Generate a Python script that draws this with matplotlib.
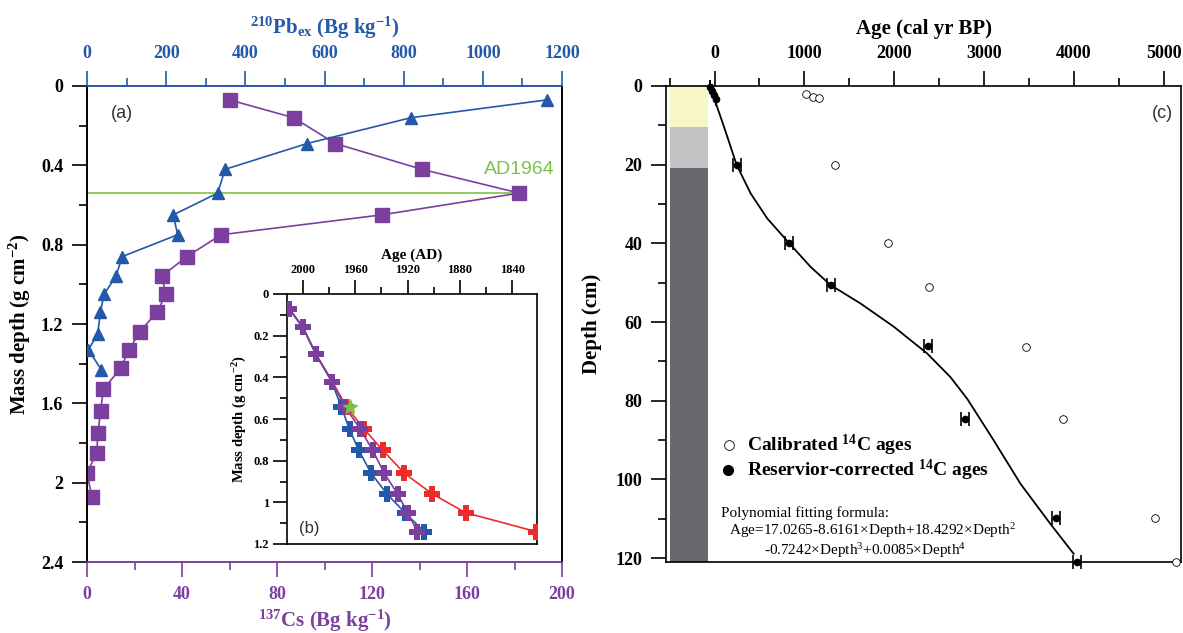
import matplotlib
matplotlib.use("Agg")
import matplotlib.pyplot as plt
from matplotlib.ticker import MultipleLocator, FormatStrFormatter

plt.rcParams['font.family'] = ['Liberation Serif', 'DejaVu Serif']
plt.rcParams['axes.linewidth'] = 1.2

# ---- panel (a): 137Cs and 210Pbex profiles
cs_depth = [0.07, 0.16, 0.29, 0.42, 0.54, 0.65, 0.75, 0.86, 0.96, 1.05,
            1.14, 1.24, 1.33, 1.42, 1.53, 1.64, 1.75, 1.85, 1.95, 2.07]
cs_value = [60, 87, 104.5, 141, 182, 124, 56.5, 42, 31.4, 33.3,
            29.4, 22.2, 17.7, 14.3, 6.9, 5.7, 4.6, 4.1, 0, 2.0]
pb_depth = [0.07, 0.16, 0.29, 0.42, 0.54, 0.65, 0.75, 0.86, 0.96, 1.05,
            1.14, 1.25, 1.33, 1.43]
pb_value = [1162, 818, 556, 349, 330, 218, 229, 89, 73, 43, 34, 27, 3.5, 36]
ad1964_depth = 0.54

# ---- panel (b): age models (AD)
b_depth = [0.07, 0.16, 0.29, 0.42, 0.54, 0.65, 0.75, 0.86, 0.96, 1.05, 1.14]
b_blue = [2010.7, 2000, 1990, 1978, 1970.8, 1964.4, 1957.3, 1947.9, 1935.7, 1922, 1907.3]
b_purple = [2010.7, 2000, 1990, 1978, 1968, 1956, 1946.7, 1937.8, 1927.6, 1920, 1912.4]
b_red = [2010.7, 2000, 1990, 1977.5, 1967, 1953, 1939, 1922.5, 1901, 1875.5, 1822]
star_age, star_depth = 1964, 0.54

# ---- panel (c): 14C ages
cal_age = [1015, 1100, 1164, 1343, 1933, 2387, 3469, 3883, 4901, 5133]
cal_depth = [2.1, 2.7, 3.0, 20, 40, 51, 66.3, 84.6, 109.8, 121]
res_age = [-55, -30, -5, 20, 247, 829, 1292, 2374, 2785, 3805, 4035]
res_depth = [0.3, 1.2, 2.2, 3.2, 20.1, 39.9, 50.6, 66.0, 84.6, 109.8, 121]
res_err = [0, 0, 0, 0, 45, 45, 45, 45, 45, 45, 45]
fit_age = [-61, -23, 106, 247, 402, 588, 829, 1070, 1292, 1626, 1996, 2367,
           2626, 2812, 3108, 3405, 3738, 3997]
fit_depth = [0, 1.9, 10.4, 20.1, 27.3, 33.7, 39.9, 46.0, 50.6, 55.3, 61.2, 68.0,
             74.0, 79.5, 90.1, 101.1, 111.3, 118.9]
litho_top = [0, 10.4, 20.9]
litho_bot = [10.4, 20.9, 121]
litho_col = ['#f6f6c6', '#c2c3c5', '#67686c']

blue = '#2458a8'
purple = '#7b3f9e'
red = '#ee2b2b'
green = '#7ec244'

W, H = 1183, 633
fig = plt.figure(figsize=(W / 100, H / 100), dpi=100)


def px(l, t, r, b):
    return [l / W, 1 - b / H, (r - l) / W, (b - t) / H]


def ticks(a, which_axis, major, minor, big=11, small=5.5, color='black', size=13):
    a.tick_params(axis=which_axis, which='major', direction='out', length=big, width=1.2,
                  colors=color, labelsize=size, pad=6)
    a.tick_params(axis=which_axis, which='minor', direction='out', length=small, width=1.2,
                  colors=color)
    loc = a.xaxis if which_axis == 'x' else a.yaxis
    loc.set_major_locator(MultipleLocator(major))
    loc.set_minor_locator(MultipleLocator(minor))


def bold_labels(a):
    for lab in a.get_xticklabels() + a.get_yticklabels():
        lab.set_fontweight('bold')


# ================= panel (a)
ax = fig.add_axes(px(87, 86, 562, 562))
ax.plot(cs_value, cs_depth, color=purple, lw=1.2, marker='s', ms=9.5, zorder=3)
ax.set_xlim(0, 200)
ax.set_ylim(2.4, 0)
ax.axhline(ad1964_depth, xmin=0, xmax=182 / 200, color=green, lw=1.2, zorder=2)
ax.text(197, 0.42, 'AD1964', color=green, fontsize=14,
        family='Liberation Sans', ha='right', va='center')
ax.text(0.05, 0.96, '(a)', transform=ax.transAxes, fontsize=13,
        family='Liberation Sans', va='top', color='#333333')
ticks(ax, 'x', 40, 20, color=purple)
ticks(ax, 'y', 0.4, 0.2)
ax.yaxis.set_major_formatter(FormatStrFormatter('%g'))
bold_labels(ax)
ax.spines['bottom'].set_color(purple)
ax.spines['top'].set_color(blue)
ax.set_xlabel(r'$\mathregular{^{137}}$Cs (Bg kg$\mathregular{^{-1}}$)', color=purple,
              fontsize=15, fontweight='bold', labelpad=4)
ax.set_ylabel(r'Mass depth (g cm$\mathregular{^{-2}}$)', fontsize=15,
              fontweight='bold', labelpad=6)

ax2 = ax.twiny()
ax2.plot(pb_value, pb_depth, color=blue, lw=1.2, marker='^', ms=8, zorder=3)
ax2.set_xlim(0, 1200)
ticks(ax2, 'x', 200, 100, color=blue)
bold_labels(ax2)
ax2.spines['top'].set_color(blue)
ax2.spines['bottom'].set_color(purple)
ax2.set_xlabel(r'$\mathregular{^{210}}$Pb$\mathregular{_{ex}}$ (Bg kg$\mathregular{^{-1}}$)',
               color=blue, fontsize=15, fontweight='bold', labelpad=8)

# ================= panel (b) inset
axb = fig.add_axes(px(287, 294, 537, 544))
axb.plot(b_red, b_depth, color=red, lw=1.2, marker='P', ms=11, mew=0, zorder=3)
axb.plot(b_blue, b_depth, color=blue, lw=1.2, marker='P', ms=11, mew=0, zorder=4)
axb.plot(b_purple, b_depth, color=purple, lw=1.2, marker='P', ms=11, mew=0, zorder=5)
axb.plot([star_age], [star_depth], color=green, marker='*', ms=11, ls='none', zorder=6)
axb.set_xlim(2012.2, 1821)
axb.set_ylim(1.2, 0)
axb.xaxis.tick_top()
axb.xaxis.set_label_position('top')
ticks(axb, 'x', 40, 20, big=10, small=5, size=9)
ticks(axb, 'y', 0.2, 0.1, big=10, small=5, size=9)
axb.tick_params(axis='both', which='major', pad=3)
axb.yaxis.set_major_formatter(FormatStrFormatter('%g'))
bold_labels(axb)
axb.set_xlabel('Age (AD)', fontsize=11, fontweight='bold', labelpad=4)
axb.set_ylabel(r'Mass depth (g cm$\mathregular{^{-2}}$)', fontsize=10.5,
               fontweight='bold', labelpad=3)
axb.text(0.05, 0.03, '(b)', transform=axb.transAxes, fontsize=12,
         family='Liberation Sans', va='bottom', color='#333333')

# ================= panel (c)
axc = fig.add_axes(px(666, 86, 1181, 562))
for t, b, c in zip(litho_top, litho_bot, litho_col):
    axc.fill_betweenx([t, b], -498, -76, color=c, lw=0, zorder=1)
axc.plot(fit_age, fit_depth, color='black', lw=1.3, zorder=3)
axc.errorbar(res_age, res_depth, xerr=res_err, fmt='o', color='black', ms=4.5,
             elinewidth=1, capsize=5, capthick=1.2, zorder=4, clip_on=False)
axc.plot(cal_age, cal_depth, 'o', mfc='white', mec='black', mew=0.6, ms=5.5,
         zorder=4, clip_on=False)
axc.set_xlim(-540, 5192)
axc.set_ylim(121, 0)
axc.xaxis.tick_top()
axc.xaxis.set_label_position('top')
ticks(axc, 'x', 1000, 500)
ticks(axc, 'y', 20, 10)
bold_labels(axc)
axc.set_xlabel('Age (cal yr BP)', fontsize=15, fontweight='bold', labelpad=8)
axc.set_ylabel('Depth (cm)', fontsize=15, fontweight='bold', labelpad=10)
axc.text(0.985, 0.96, '(c)', transform=axc.transAxes, fontsize=13,
         family='Liberation Sans', ha='right', va='top', color='#333333')

axc.plot([161], [91.3], 'o', mfc='white', mec='black', mew=0.6, ms=7)
axc.plot([150], [97.7], 'o', color='black', ms=7)
axc.text(366, 91.3, r'Calibrated $\mathregular{^{14}}$C ages', fontsize=14,
         fontweight='bold', va='center')
axc.text(366, 97.7, r'Reservior-corrected $\mathregular{^{14}}$C ages', fontsize=14,
         fontweight='bold', va='center')
axc.text(77, 108.5, 'Polynomial fitting formula:', fontsize=11, va='center')
axc.text(161, 113.1,
         r'Age=17.0265-8.6161×Depth+18.4292×Depth$\mathregular{^{2}}$',
         fontsize=11, va='center')
axc.text(551, 118.1,
         r'-0.7242×Depth$\mathregular{^{3}}$+0.0085×Depth$\mathregular{^{4}}$',
         fontsize=11, va='center')

fig.savefig('out.png', dpi=100)
